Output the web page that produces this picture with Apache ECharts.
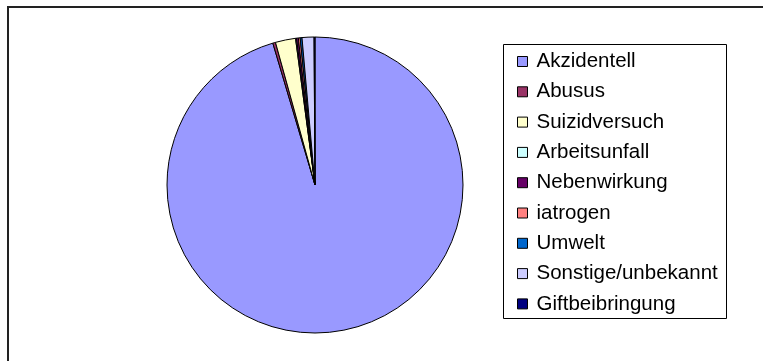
<!DOCTYPE html>
<html>
<head>
<meta charset="utf-8">
<script src="https://cdn.jsdelivr.net/npm/echarts@6/dist/echarts.min.js"></script>
<style>
  html, body { margin: 0; padding: 0; background: #fff; }
  #chart { width: 763px; height: 361px; }
</style>
</head>
<body>
<div id="chart"></div>
<script>
// Vergiftungsursachen (Anteile in %)
const categories = ['Akzidentell', 'Abusus', 'Suizidversuch', 'Arbeitsunfall', 'Nebenwirkung', 'iatrogen', 'Umwelt', 'Sonstige/unbekannt', 'Giftbeibringung'];
const values = [95.4, 0.3, 2.2, 0.1, 0.2, 0.2, 0.2, 1.3, 0.1];
const colors = ['#9999FF', '#993366', '#FFFFCC', '#CCFFFF', '#660066', '#FF8080', '#0066CC', '#CCCCFF', '#000080'];

const chart = echarts.init(document.getElementById('chart'), null, { renderer: 'canvas' });

chart.setOption({
  animation: false,
  backgroundColor: '#fff',
  color: colors,
  graphic: [
    { type: 'rect', shape: { x: 8, y: 7, width: 820, height: 420 }, style: { fill: 'none', stroke: '#222', lineWidth: 2 }, z: 0 },
    { type: 'rect', shape: { x: 503.5, y: 44.5, width: 223, height: 274 }, style: { fill: '#fff', stroke: '#000', lineWidth: 1 }, z: 1 }
  ],
  legend: {
    orient: 'vertical',
    left: 517,
    top: 51,
    z: 5,
    padding: 0,
    itemWidth: 10,
    itemHeight: 10,
    itemGap: 9.3,
    icon: 'rect',
    itemStyle: { borderColor: '#000', borderWidth: 1 },
    textStyle: { fontFamily: 'Liberation Sans, Arial, sans-serif', fontSize: 20.5, lineHeight: 21, color: '#000', padding: [0, 0, 0, 4] },
    selectedMode: false,
    data: categories
  },
  series: [{
    type: 'pie',
    center: [315, 185],
    radius: 148,
    startAngle: 90,
    clockwise: true,
    avoidLabelOverlap: false,
    label: { show: false },
    labelLine: { show: false },
    emphasis: { disabled: true },
    itemStyle: { borderColor: '#000', borderWidth: 1 },
    data: categories.map((name, i) => ({ name, value: values[i] }))
  }]
});
</script>
</body>
</html>
